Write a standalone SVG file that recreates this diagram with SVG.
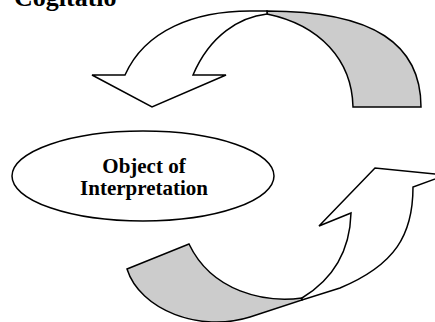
<svg xmlns="http://www.w3.org/2000/svg" width="435" height="322" viewBox="0 0 435 322">
<style>
.t{font-family:"Liberation Serif","Times New Roman",serif;font-weight:bold;fill:#000}
.s{stroke:#000;stroke-width:1.5;stroke-linejoin:miter}
.w{fill:#fff}
.g{fill:#cccccc}
</style>
<rect width="435" height="322" fill="#fff"/>
<g id="cogitatio">
<text class="t" x="14" y="6" font-size="26">Cogitatio</text>
</g>
<g id="connectors">
<g id="arrow-top">
<path class="s g" d="M267,11 C375,11 421,45 421,107 L353,107 C352,60 320,25 267,14 Z"/>
<path class="s w" d="M125,75 L92,75 L152,107 L226,75 L193,75 C210,35 240,17 267,14 L267,11 L250,11 C195,11 145,30 125,75 Z"/>
</g>
<g id="arrow-bottom">
<path class="s g" d="M302,298 C265,303 212,292 189,244 L127,269 C140,310 200,333 250,317 L302,300 Z"/>
<path class="s w" d="M351,213 L319,226 L375,168 L446,175 L413,187 C413,235 395,265 340,288 L302,300 L302,298 C335,278 350,250 351,213 Z"/>
</g>
</g>
<g id="object-of-interpretation">
<ellipse class="s w" cx="143" cy="176" rx="131" ry="45"/>
<text class="t" x="144" y="173" font-size="21" text-anchor="middle">Object of</text>
<text class="t" x="144" y="195" font-size="21" text-anchor="middle">Interpretation</text>
</g>
</svg>
